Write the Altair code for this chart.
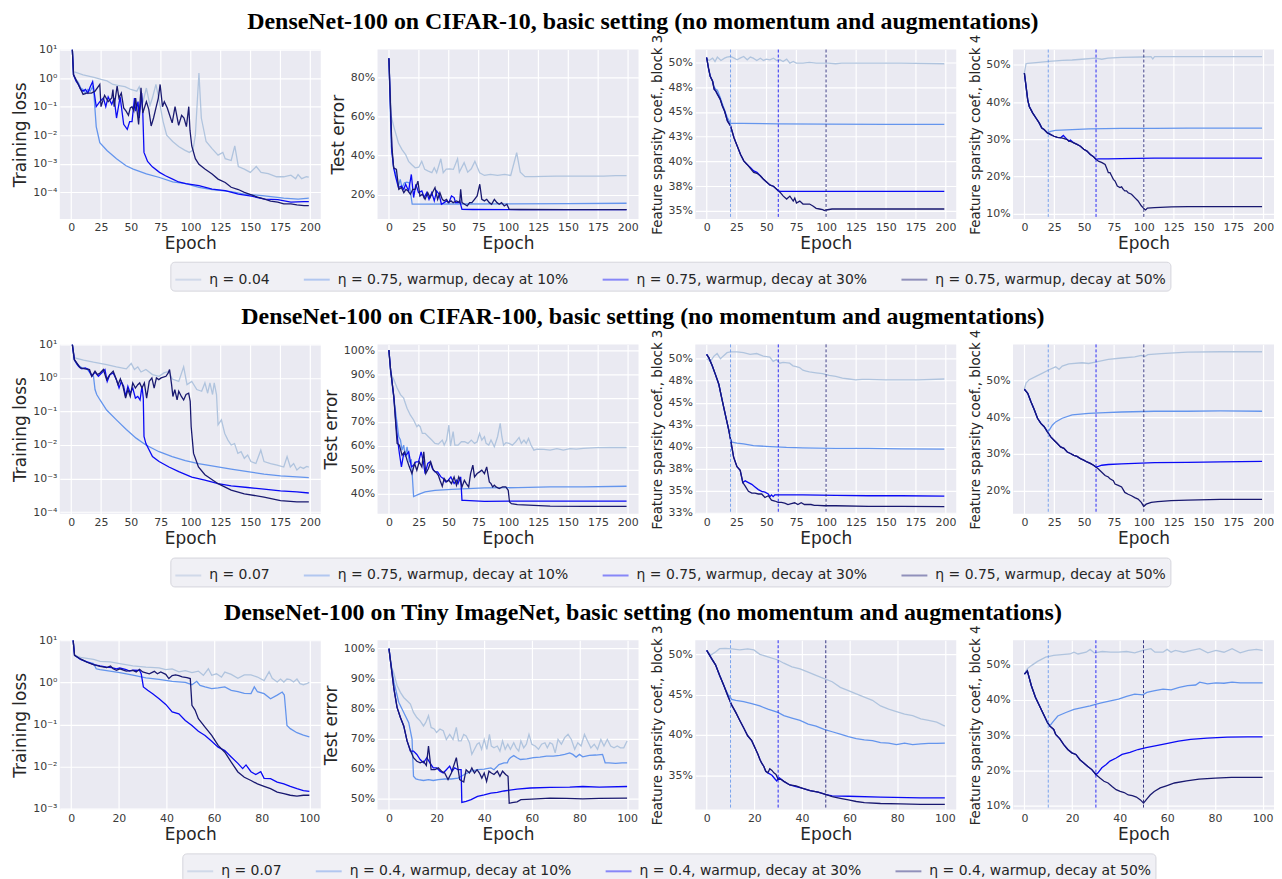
import altair as alt
import pandas as pd

# ---------------- labels / titles ----------------
TITLES = [
    "DenseNet-100 on CIFAR-10, basic setting (no momentum and augmentations)",
    "DenseNet-100 on CIFAR-100, basic setting (no momentum and augmentations)",
    "DenseNet-100 on Tiny ImageNet, basic setting (no momentum and augmentations)",
]
LABELS_R1 = ["η = 0.04", "η = 0.75, warmup, decay at 10%", "η = 0.75, warmup, decay at 30%", "η = 0.75, warmup, decay at 50%"]
LABELS_R2 = ["η = 0.07", "η = 0.75, warmup, decay at 10%", "η = 0.75, warmup, decay at 30%", "η = 0.75, warmup, decay at 50%"]
LABELS_R3 = ["η = 0.07", "η = 0.4, warmup, decay at 10%", "η = 0.4, warmup, decay at 30%", "η = 0.4, warmup, decay at 50%"]
LINE_COLORS = ["#B0C4DE", "#6495ED", "#0A0AF5", "#191970"]
LEGEND_COLORS = ["#CBD5E8", "#A7C0F0", "#7575F9", "#8080B1"]
DECAY_200 = [20, 60, 100]
DECAY_100 = [10, 30, 50]
X_TICKS_200 = [0, 25, 50, 75, 100, 125, 150, 175, 200]
X_TICKS_100 = [0, 20, 40, 60, 80, 100]

# ================= Row 1: CIFAR-10 =================
R1_LOSS_BASE = [(1, 10), (2, 1.7), (10, 1.3), (20, 1.05), (25, 0.9), (30, 0.8), (35, 0.6), (40, 0.55), (45, 0.5), (50, 0.4), (55, 0.35), (57, 0.5), (60, 0.14), (63, 0.45), (66, 0.11), (68, 0.2), (71, 0.6), (74, 0.14), (77, 0.03), (80, 0.01), (85, 0.006), (90, 0.004), (95, 0.003), (99, 0.0025), (102, 0.003), (104, 0.01), (107, 1.5), (109, 0.04), (113, 0.006), (118, 0.0034), (123, 0.002), (127, 0.0025), (129, 0.0015), (134, 0.0013), (137, 0.0042), (140, 0.0008), (145, 0.00065), (150, 0.0005), (155, 0.0008), (159, 0.0005), (165, 0.00045), (172, 0.00035), (178, 0.00035), (184, 0.0004), (188, 0.0003), (190, 0.00042), (193, 0.0003), (197, 0.00035), (199, 0.00034)]
R1_LOSS_D10 = [(1, 10), (2, 1.3), (4, 0.9), (6, 0.7), (8, 0.45), (10, 0.4), (12, 0.3), (14, 0.4), (16, 0.35), (18, 0.5), (19, 0.3), (21, 0.02), (24, 0.0055), (30, 0.0029), (38, 0.0015), (46, 0.00085), (52, 0.00065), (63, 0.00044), (74, 0.00033), (85, 0.00023), (96, 0.0002), (107, 0.00015), (118, 0.000124), (134, 0.000105), (145, 0.000087), (160, 0.000076), (178, 0.000063), (190, 0.000058), (199, 0.000063)]
R1_LOSS_D30 = [(1, 10), (2, 1.3), (4, 0.8), (6, 0.6), (8, 0.4), (10, 0.35), (12, 0.4), (14, 0.3), (16, 0.5), (18, 0.75), (21, 0.1), (24, 0.15), (27, 0.2), (29, 0.1), (31, 0.22), (34, 0.12), (36, 0.2), (38, 0.04), (41, 0.22), (44, 0.024), (47, 0.016), (49, 0.03), (51, 0.03), (53, 0.2), (54, 0.07), (56, 0.15), (57, 0.04), (59, 0.3), (60, 0.06), (61, 0.0025), (64, 0.0012), (68, 0.00078), (74, 0.0005), (79, 0.00038), (85, 0.00029), (90, 0.00023), (96, 0.0002), (107, 0.00017), (118, 0.00013), (129, 0.000115), (140, 0.000087), (151, 0.000073), (162, 0.000058), (173, 0.000055), (184, 0.000045), (195, 0.000047), (199, 0.000047)]
R1_LOSS_D50 = [(1, 10), (2, 1.3), (4, 0.9), (7, 0.5), (10, 0.27), (13, 0.3), (17, 0.3), (20, 0.35), (24, 0.6), (25, 0.1), (28, 0.25), (31, 0.15), (34, 0.2), (35, 0.4), (36, 0.1), (38.5, 0.53), (40, 0.2), (42, 0.3), (44, 0.09), (46, 0.07), (48, 0.05), (49.5, 0.09), (51, 0.1), (52.5, 0.07), (54, 0.2), (56.5, 0.024), (58.5, 0.46), (60, 0.06), (63, 0.15), (65, 0.08), (67, 0.021), (69, 0.04), (71, 0.09), (73, 0.2), (74.5, 0.6), (76.5, 0.1), (78, 0.15), (80.5, 0.09), (82.5, 0.05), (84.6, 0.027), (87, 0.1), (90, 0.022), (92.5, 0.05), (94.5, 0.04), (96.5, 0.02), (98.5, 0.1), (99.5, 0.015), (101, 0.0042), (104, 0.0015), (107, 0.00096), (112, 0.00065), (118, 0.00044), (123, 0.00029), (129, 0.00022), (134, 0.00015), (140, 0.000125), (145, 0.0001), (151, 0.000081), (156, 0.000068), (162, 0.000058), (167, 0.000049), (173, 0.000045), (178, 0.000039), (184, 0.000039), (189, 0.000036), (195, 0.000034), (199, 0.000034)]

R1_ERR_BASE = [(0, 89.7), (2, 60), (4, 55), (8, 46.4), (11, 43), (14, 40.5), (16.5, 37), (19, 35.4), (22, 33.7), (25, 34), (27.5, 37), (30, 32.9), (33, 32), (36, 31.2), (38, 33.7), (40, 31.2), (43.5, 38.3), (45.5, 31.2), (48, 33), (51, 33.2), (54, 32.9), (57.5, 38.3), (59, 31.5), (63, 36.3), (66, 31.5), (69, 33.2), (72, 37), (76, 31.2), (80, 29.8), (85, 30.3), (91, 29.8), (97, 30.3), (102, 29.8), (107, 41.4), (110, 31.5), (114, 29.2), (121, 29.2), (130, 29.3), (140, 29.5), (150, 29.5), (165, 29.5), (180, 29.5), (190, 29.7), (199, 29.7)]
R1_ERR_D10 = [(0, 89.7), (2, 44.7), (4, 33.7), (5.5, 31.2), (8, 24.4), (9.5, 27.8), (11, 23.6), (13, 26), (15, 26.4), (17, 26.1), (19.5, 15.1), (30, 15.1), (60, 15.2), (100, 15.3), (150, 15.4), (199, 15.6)]
R1_ERR_D30 = [(0, 89.7), (2.5, 42), (4, 33.7), (5.5, 29.5), (8, 23.6), (10.5, 24.4), (12.5, 22.7), (14, 25.3), (16.5, 21.9), (18.8, 30.3), (20.7, 18.5), (22.6, 25.3), (24.8, 21), (27.6, 21.9), (29.5, 18.5), (31.7, 21), (33.6, 17.6), (35.9, 21), (38, 16.8), (40, 21.9), (42, 20.2), (44, 15.1), (46.3, 15.9), (48.3, 16.8), (50.2, 15.9), (52.4, 19.3), (54.6, 18.5), (55.8, 15.9), (58, 15.9), (59.3, 16.8), (61.2, 12.5), (70, 12.4), (100, 12.3), (150, 12.3), (199, 12.3)]
R1_ERR_D50 = [(0, 89.7), (2.5, 44.7), (4, 33.7), (6.3, 32.9), (8.3, 22.7), (10.5, 23.6), (12.5, 21), (14.3, 22.7), (16, 21.9), (18, 20.2), (20, 22.7), (22, 22.7), (24.3, 26.9), (26, 19.3), (28, 20.2), (30.3, 17.6), (32.5, 21), (34.5, 18.5), (36.4, 21), (38.6, 23.6), (40.8, 17.6), (42.7, 21), (44.7, 17.6), (46.3, 16.8), (48.3, 17.6), (49.7, 15.9), (52, 16.8), (53.8, 15.9), (56.6, 16.8), (59.3, 15.9), (60.1, 22.7), (61.2, 15.9), (63.4, 15.1), (65.6, 14.2), (67.6, 15.9), (69.5, 15.9), (71.7, 17.6), (73.9, 19.3), (76.1, 25.3), (77.8, 17.6), (80, 16.8), (81.9, 17.6), (84.1, 15.9), (86, 15.1), (88.3, 17.6), (90.5, 15.9), (92.4, 15.1), (94.3, 15.9), (96.6, 14.2), (98.8, 15.1), (100.7, 12.5), (110, 12.4), (150, 12.3), (199, 12.3)]

R1_B3_BASE = [(0, 50.4), (2, 50.2), (5, 50.43), (7, 50.1), (9, 50.54), (12, 50.2), (15, 50.43), (17, 50.54), (20, 50.6), (23, 50.43), (25.5, 50.27), (28, 50.43), (31, 50.6), (34, 50.27), (36.6, 50.54), (39, 50.43), (42, 50.2), (45, 50.43), (47.6, 50.2), (50, 50.33), (53, 50.27), (56, 50.43), (58.7, 50.2), (61.4, 50.27), (64, 50.1), (67, 50.33), (69.7, 49.93), (72.5, 50.1), (75, 49.93), (80.6, 49.93), (86, 50.0), (91.8, 49.93), (97, 49.93), (102, 49.93), (108, 49.87), (113, 49.93), (135, 49.93), (163, 49.93), (199, 49.87)]
R1_B3_D10 = [(0, 50.5), (1.6, 49.4), (3, 48.6), (5, 48.1), (6.3, 47.5), (7.7, 47.3), (9, 47.2), (11.3, 46.5), (13.2, 45.8), (15, 45.2), (17.4, 44.4), (20, 43.84), (30, 43.84), (60, 43.8), (100, 43.78), (150, 43.75), (199, 43.74)]
R1_B3_D30 = [(0, 50.5), (1.6, 49.4), (3, 48.6), (5, 48.1), (6.3, 47.3), (7.7, 47.1), (9, 46.8), (11.3, 46.3), (13.2, 45.6), (15, 45.1), (17.4, 44.1), (20, 43.6), (22.9, 42.4), (25.6, 41.56), (28.4, 40.7), (31.1, 40.06), (33.9, 39.7), (36.6, 39.4), (39.4, 39.05), (42.1, 38.9), (44.9, 38.55), (47.6, 38.2), (50.4, 37.9), (53.2, 37.6), (55.9, 37.5), (60, 37.04), (62, 36.98), (100, 36.98), (150, 36.98), (199, 36.98)]
R1_B3_D50 = [(0, 50.5), (1.6, 49.4), (3, 48.6), (5, 48.1), (6.3, 47.3), (7.7, 47.1), (9, 46.8), (11.3, 46.3), (13.2, 45.6), (15, 45.1), (17.4, 44.1), (20, 43.6), (22.9, 42.4), (25.6, 41.56), (28.4, 40.7), (31.1, 40.06), (33.9, 39.7), (36.6, 39.3), (39.4, 38.9), (42.1, 38.8), (44.9, 38.55), (47.6, 38.2), (50.4, 37.9), (53.2, 37.6), (55.9, 37.5), (60, 37.04), (61.4, 36.9), (64.2, 36.5), (67, 36.2), (69.7, 36.5), (72.5, 36.0), (73.8, 36.3), (75.2, 35.8), (78, 36.0), (80.7, 35.7), (83.5, 35.7), (86.2, 35.7), (89, 35.5), (91.7, 35.27), (94.5, 35.2), (97.2, 35.14), (98.6, 35.04), (100, 35.1), (105, 35.2), (130, 35.2), (160, 35.2), (199, 35.2)]

R1_B4_BASE = [(0, 47.8), (1.4, 50.3), (2.8, 50.4), (9.7, 50.6), (20.7, 50.9), (31.7, 51.2), (40, 51.3), (48, 51.5), (59.3, 51.8), (64.8, 51.5), (70, 51.8), (81.4, 52), (97.9, 52.1), (106, 52.2), (107.5, 51.6), (109, 52.2), (137, 52.2), (164, 52.2), (199, 52.2)]
R1_B4_D10 = [(0, 47.8), (1.4, 44.2), (2.8, 40.6), (4.1, 38.8), (6.9, 37.1), (9.7, 35.7), (12.4, 34.4), (14.6, 33), (16.5, 32.6), (19.3, 31.7), (22, 32.1), (26, 32.4), (40, 32.6), (54, 32.8), (81, 32.9), (109, 32.9), (137, 33), (199, 33)]
R1_B4_D30 = [(0, 47.8), (1.4, 44.2), (2.8, 40.6), (4.1, 38.8), (6.9, 37.1), (9.7, 35.7), (12.4, 34.4), (14.6, 33), (16.5, 32.6), (19.3, 31.7), (22.1, 31.25), (24.8, 30.8), (27.6, 30.5), (30.3, 30.4), (32.6, 31.0), (35.9, 29.9), (37.2, 29.5), (38.6, 29.8), (41.4, 29), (44.1, 28.6), (46.9, 28.1), (49.7, 27.3), (52.4, 26.8), (55.2, 25.9), (57.9, 25.3), (59.9, 24.6), (62, 24.7), (70, 24.7), (81, 24.8), (109, 24.9), (137, 24.9), (164, 24.9), (199, 24.9)]
R1_B4_D50 = [(0, 47.8), (1.4, 44.2), (2.8, 40.6), (4.1, 38.8), (6.9, 37.1), (9.7, 35.7), (12.4, 34.4), (14.6, 33), (16.5, 32.6), (19.3, 31.7), (22.1, 31.25), (24.8, 30.8), (27.6, 30.5), (30.3, 30.4), (32.6, 30.2), (35.9, 29.9), (37.2, 29.5), (38.6, 29.4), (41.4, 29), (44.1, 28.6), (46.9, 28.1), (49.7, 27.3), (52.4, 26.8), (55.2, 25.9), (57.9, 25.3), (59.9, 24.6), (62, 24.1), (65, 23.7), (67.6, 23.2), (69, 22.1), (70.3, 21), (71.7, 21), (73.1, 20.1), (74.5, 19.2), (75.9, 18.75), (77.8, 17.4), (80, 17), (81.4, 17.2), (82.8, 16.5), (84.1, 16.1), (85.5, 16.1), (86.9, 15.6), (89.7, 15.2), (92.4, 14.3), (95.2, 13.4), (97.9, 12.1), (99.3, 11.6), (100.7, 11.2), (101.5, 11.0), (103, 11.5), (109, 11.6), (123, 11.8), (137, 11.9), (165, 11.9), (199, 11.9)]

# ================= Row 2: CIFAR-100 =================
R2_LOSS_BASE = [(1, 10), (2.2, 4.0), (10.4, 3.4), (18.7, 2.95), (29.7, 2.5), (37.9, 2.14), (46.2, 1.86), (50.3, 2.7), (53, 1.78), (55.8, 2.14), (58.5, 1.5), (62.6, 1.78), (68.1, 1.26), (73.6, 1.12), (77.7, 1.41), (81.9, 1.58), (84.6, 0.93), (90.1, 0.79), (94.2, 2.14), (97, 0.63), (101, 0.79), (105.2, 0.45), (109.3, 0.40), (112, 0.71), (114.3, 0.35), (116.2, 0.71), (118.4, 0.32), (119.8, 0.71), (121.7, 0.32), (123, 0.04), (125.8, 0.056), (128.6, 0.022), (131.3, 0.014), (134, 0.01), (136.8, 0.011), (139.6, 0.0056), (142.3, 0.0063), (145, 0.004), (147.8, 0.005), (150.5, 0.0032), (154.7, 0.0028), (158.8, 0.007), (161.5, 0.0032), (167, 0.0028), (172.5, 0.0025), (178, 0.0022), (180.8, 0.0045), (183.5, 0.0022), (186.3, 0.0028), (189, 0.0018), (191.8, 0.0022), (194.5, 0.002), (197.3, 0.0023), (199, 0.0022)]
R2_LOSS_D10 = [(1, 10), (2.7, 3.5), (4.9, 2.5), (9, 2.0), (13.2, 1.86), (15.9, 1.4), (18.7, 1.12), (20, 0.45), (21.4, 0.32), (24.2, 0.22), (29.7, 0.11), (37.9, 0.056), (46.2, 0.029), (54.4, 0.016), (62.6, 0.01), (73.6, 0.0063), (84.6, 0.0045), (95.6, 0.0034), (106.6, 0.0028), (120.3, 0.0023), (134, 0.0019), (147.8, 0.0016), (161.5, 0.00135), (175.3, 0.0012), (189, 0.00112), (199, 0.00107)]
R2_LOSS_D30 = [(1, 10), (2.7, 3.5), (6.3, 2.2), (9, 1.86), (11.8, 2.0), (14.6, 1.78), (17.3, 1.12), (20, 1.5), (22.8, 1.12), (25.5, 1.4), (28.3, 1.78), (30.2, 0.79), (32.4, 1.25), (35.2, 1.4), (37.9, 0.89), (40.1, 0.5), (42, 0.79), (44, 0.56), (45.6, 0.28), (47.5, 0.56), (49.5, 0.35), (51.6, 0.5), (53.8, 0.25), (55.8, 0.28), (57.7, 0.22), (59.3, 0.56), (60.4, 0.25), (61, 0.018), (62.6, 0.011), (68.1, 0.0045), (73.6, 0.0032), (81.9, 0.0022), (90.1, 0.0016), (101, 0.0011), (112, 0.0009), (123, 0.0007), (134, 0.0006), (147.8, 0.00054), (161.5, 0.00048), (175.3, 0.00043), (189, 0.0004), (199, 0.00037)]
R2_LOSS_D50 = [(1, 10), (2.7, 3.5), (7.7, 2.0), (11.8, 1.86), (15.4, 1.78), (17.3, 1.12), (20, 1.58), (22, 1.26), (24.2, 1.41), (27, 1.78), (29.7, 0.89), (32.4, 1.26), (35.2, 1.58), (37.4, 1.0), (39.3, 0.63), (41.2, 0.94), (43.4, 0.56), (45.6, 0.25), (47.5, 0.45), (49.5, 0.28), (51.6, 0.71), (53.8, 0.5), (55.8, 0.63), (57.4, 0.71), (59.3, 0.5), (61.3, 0.71), (63.2, 0.25), (65.4, 0.79), (67.6, 1.0), (69.5, 0.5), (71.4, 1.0), (73.4, 0.89), (75.3, 1.0), (77.2, 1.05), (79.4, 1.12), (81.3, 1.41), (82.4, 1.78), (84.1, 0.63), (85.2, 0.28), (86.8, 0.45), (88.7, 0.22), (90.1, 0.40), (92.3, 0.28), (94.2, 0.22), (96.2, 0.32), (98.4, 0.35), (99.7, 0.2), (100.5, 0.035), (102.5, 0.0056), (106.6, 0.0022), (112, 0.0013), (123, 0.0007), (134, 0.00045), (145, 0.00035), (161.5, 0.00028), (175.3, 0.00022), (189, 0.0002), (199, 0.0002)]

R2_ERR_BASE = [(0, 100), (1.4, 90.5), (4.1, 87.7), (6.9, 84.2), (9.7, 81.4), (12.4, 80), (13.2, 78.6), (15.2, 75.7), (17.9, 72.9), (20.7, 70.8), (23.4, 68), (24.8, 68.7), (26.2, 68), (28, 65.2), (30.3, 65.2), (33.1, 63.8), (35.9, 62.4), (38.6, 61), (41.4, 60.7), (44.7, 62.4), (46.3, 60.3), (48.3, 62.4), (50.2, 68.7), (51.6, 59.9), (53.8, 65.9), (55.2, 60.3), (57.9, 60.3), (60.7, 61.7), (63.4, 61.7), (66.2, 61), (69, 62.4), (71.7, 61), (73.9, 61.7), (75.9, 65.2), (77.8, 62.4), (80, 63.8), (81.4, 61), (83.6, 60.3), (85.5, 62.4), (88.3, 59.6), (91, 63.8), (93.2, 69.4), (94.6, 63.8), (96, 60.3), (98, 61.3), (100.7, 61), (103.4, 60.3), (106.2, 61.7), (109, 63.5), (110.9, 61), (113.1, 62.4), (115.0, 61), (116.9, 63.1), (119, 60.3), (121.4, 58.2), (124, 58.6), (129.7, 58.5), (135, 58.2), (140.7, 58.8), (146, 58.2), (151.7, 58.8), (157, 58.6), (162.8, 58.9), (173.8, 59.2), (184.8, 59.3), (199, 59.3)]
R2_ERR_D10 = [(0, 100), (1.4, 91.9), (3.3, 83.5), (6.1, 72.2), (8.3, 63.8), (9.7, 62.4), (11, 58.2), (12.4, 60.3), (13.8, 55.4), (15.2, 59.6), (17.1, 53.3), (18.8, 54), (19.3, 49.8), (20.7, 38.8), (24.8, 39.7), (30.3, 40.7), (38.6, 41.4), (52.4, 41.8), (66.2, 42.1), (80, 42.4), (107.6, 42.5), (135, 42.8), (162.8, 42.8), (199, 43.1)]
R2_ERR_D30 = [(0, 100), (1.4, 91.9), (4.1, 80.7), (6.1, 68), (7.7, 61), (8.8, 56.8), (10.5, 51.2), (12.4, 56.8), (14.3, 56.1), (16.6, 57.5), (18.8, 51.2), (20.7, 51.9), (22.6, 53.3), (24.8, 53.3), (27, 57.5), (28.9, 53.3), (30.3, 48.4), (32.6, 52.6), (34.5, 53.3), (36.4, 50.5), (38.6, 49.1), (40.8, 49.1), (43.6, 47), (45.5, 46.3), (47.4, 44.9), (49.7, 45.6), (51.9, 47), (54.6, 44.2), (56.6, 45.6), (57.9, 44.2), (60.1, 47), (61.2, 37.2), (63.4, 37.2), (80, 36.8), (107.6, 36.9), (135, 36.9), (162.8, 36.9), (199, 36.9)]
R2_ERR_D50 = [(0, 100), (1.4, 91.9), (4.1, 80.7), (6.9, 61), (8.8, 60.3), (11, 56.1), (13.2, 57.5), (15.2, 54), (17.1, 51.2), (19.3, 48.4), (21.5, 52.6), (23.4, 49.8), (25.4, 53.3), (27.6, 51.2), (29.2, 57.5), (30.9, 48.4), (33.1, 50.5), (35, 53.3), (37.2, 49.8), (39.2, 49.1), (41.4, 47.7), (42.8, 45.6), (44.7, 43.1), (46.3, 46.3), (48.3, 44.9), (50.2, 45.6), (52.4, 44.2), (54.6, 47), (56.6, 43.5), (58.5, 47), (59.9, 45.6), (61.2, 42.8), (63.2, 45.6), (64.8, 44.2), (66.8, 42.8), (68.4, 48.4), (70.3, 51.9), (71.7, 47), (73.9, 48.4), (75.9, 49.1), (77.8, 49.8), (80, 48.4), (81.9, 51.2), (84.1, 44.9), (85.5, 44.2), (86.9, 42.8), (88.3, 43.5), (89.7, 42.8), (92.4, 42.1), (95.2, 42.8), (97.9, 42.8), (99.9, 41.4), (101, 36.5), (102.6, 35.8), (107.6, 35.4), (121.4, 35.1), (135, 34.8), (162.8, 34.7), (199, 34.7)]

R2_B3_BASE = [(0, 50), (3.3, 49.7), (6.1, 50.3), (8.8, 50.6), (11.6, 50), (13.8, 50.3), (17.1, 50.7), (19.9, 50.8), (25.4, 50.8), (30.9, 50.7), (36.4, 50.5), (41.9, 50.6), (47.4, 50.3), (52.9, 50.2), (55.7, 49.7), (58.5, 49.9), (61.2, 49.5), (64, 49.6), (69.5, 49.5), (72.3, 49.2), (75, 49.1), (77.8, 49.0), (80.6, 48.7), (83.3, 48.6), (86.1, 48.5), (91.6, 48.4), (97.1, 48.3), (102.6, 48.1), (108.1, 48.0), (113.7, 47.8), (119.2, 47.7), (124.7, 47.6), (130.2, 47.65), (135.7, 47.65), (149.5, 47.6), (163.3, 47.6), (177, 47.6), (199, 47.7)]
R2_B3_D10 = [(0, 50.5), (1.9, 50.1), (4.7, 49.2), (7.4, 48.2), (10.2, 47.1), (13, 45.3), (15.7, 43.6), (18.5, 41.9), (19.9, 40.9), (21.2, 40.5), (25.4, 40.4), (30.9, 40.3), (39.2, 40.1), (53, 40), (66.8, 39.9), (80.6, 39.85), (108.1, 39.8), (135.7, 39.8), (163.3, 39.75), (199, 39.7)]
R2_B3_D30 = [(0, 50.5), (1.9, 50.1), (4.7, 49.2), (7.4, 48.2), (10.2, 47.1), (13, 45.3), (15.7, 43.6), (18.5, 41.9), (19.9, 40.9), (22.6, 38.8), (25.4, 37.7), (28.1, 37.3), (30.3, 35.9), (32.3, 36.1), (35, 35.9), (37.8, 35.7), (40.5, 35.4), (43.3, 35.1), (46.1, 34.9), (48.8, 34.8), (51.6, 34.6), (53, 34.3), (54.3, 34.5), (55.7, 34.3), (57.1, 34.5), (59.9, 34.5), (62, 34.5), (80.6, 34.5), (108.1, 34.45), (135.7, 34.4), (163.3, 34.4), (199, 34.35)]
R2_B3_D50 = [(0, 50.5), (1.9, 50.1), (4.7, 49.2), (7.4, 48.2), (10.2, 47.1), (13, 45.3), (15.7, 43.6), (18.5, 41.9), (19.9, 40.9), (22.6, 38.8), (25.4, 37.7), (28.1, 37.3), (30.3, 35.9), (32.3, 35.5), (35, 34.9), (37.8, 34.7), (40.5, 34.7), (43.3, 34.6), (46.1, 34.6), (48.8, 34.2), (51.6, 34.4), (54.3, 33.9), (57.1, 33.8), (59.9, 33.65), (62.6, 33.65), (65.4, 33.55), (68.1, 33.4), (70.9, 33.5), (73.7, 33.6), (76.4, 33.4), (79.2, 33.6), (81.9, 33.4), (84.7, 33.4), (87.4, 33.4), (90.2, 33.3), (92.9, 33.3), (98.5, 33.26), (108.1, 33.26), (135.7, 33.2), (163.3, 33.2), (199, 33.15)]

R2_B4_BASE = [(0, 47.6), (1.4, 49.3), (4.1, 50.2), (9.7, 51.1), (15.2, 52), (20.7, 52.9), (26.2, 53.7), (29, 53.0), (31.7, 53.9), (37.2, 54.5), (48.3, 54.8), (53.8, 54.6), (59.3, 55), (70.3, 55.7), (81.4, 56.1), (92.4, 56.4), (97.9, 56.8), (100.7, 56.5), (103.4, 57), (114.5, 57.3), (125.5, 57.5), (136.6, 57.7), (164.1, 57.8), (199, 57.8)]
R2_B4_D10 = [(0, 47.6), (2.8, 46.5), (5.5, 44.2), (8.3, 42), (11, 39.7), (13.8, 38.3), (16.6, 37.4), (19.3, 36), (20.7, 36.4), (23.4, 37.8), (26.2, 38.7), (31.7, 39.7), (40, 40.6), (53.8, 41), (67.6, 41.2), (81.4, 41.4), (108.9, 41.6), (136.6, 41.6), (164.1, 41.7), (199, 41.6)]
R2_B4_D30 = [(0, 47.6), (2.8, 46.5), (5.5, 44.2), (8.3, 42), (11, 39.7), (13.8, 38.3), (16.6, 37.4), (19.3, 36), (22.1, 34.6), (24.8, 33.7), (27.6, 32.8), (30.3, 31.9), (33.1, 31.5), (35.9, 30.5), (38.6, 30.1), (41.4, 29.6), (44.1, 29.3), (46.9, 28.7), (49.7, 28.3), (52.4, 27.8), (55.2, 27.4), (57.9, 26.9), (59.9, 26.4), (62, 26.6), (64.8, 26.9), (70.3, 27.1), (81.4, 27.3), (97.9, 27.5), (108.9, 27.6), (136.6, 27.7), (164.1, 27.8), (199, 27.95)]
R2_B4_D50 = [(0, 47.6), (2.8, 46.5), (5.5, 44.2), (8.3, 42), (11, 39.7), (13.8, 38.3), (16.6, 37.4), (19.3, 36), (22.1, 34.6), (24.8, 33.7), (27.6, 32.8), (30.3, 31.9), (33.1, 31.5), (35.9, 30.5), (38.6, 30.1), (41.4, 29.6), (44.1, 29.3), (46.9, 28.7), (49.7, 28.3), (52.4, 27.8), (55.2, 27.4), (57.9, 26.9), (59.9, 26.4), (62, 25.9), (64.8, 25.0), (67.6, 24.1), (70.3, 23.7), (71.7, 23.2), (74.5, 22.7), (75.9, 21.8), (78.6, 21.4), (81.4, 21.0), (84.1, 19.5), (86.9, 19.0), (89.7, 18.6), (92.4, 18.1), (95.2, 17.7), (97.9, 16.8), (99.9, 15.7), (102, 16.3), (106.2, 16.8), (111.7, 17), (122.8, 17.25), (136.6, 17.4), (164.1, 17.6), (199, 17.6)]

# ================= Row 3: Tiny ImageNet =================
R3_LOSS_BASE = [(0.8, 10), (1.4, 4.4), (3.9, 3.9), (6.6, 3.7), (9.4, 3.5), (12.1, 3.16), (16.3, 3.05), (20.4, 2.8), (25.9, 2.45), (31.4, 2.3), (36.9, 2.2), (39.7, 2.0), (42.4, 2.1), (45.2, 1.77), (47.9, 1.9), (50.7, 1.7), (53.4, 1.85), (55.5, 1.47), (57.6, 2.1), (59, 1.47), (61, 1.6), (63.1, 1.34), (64.5, 1.75), (67.2, 1.55), (70, 1.25), (72.7, 1.5), (75.5, 1.5), (78.2, 1.34), (81, 1.1), (83.1, 1.8), (84.4, 1.25), (86.5, 1.02), (87.9, 1.2), (89.3, 1.02), (90.6, 1.2), (92, 1.16), (93.4, 1.02), (94.8, 1.2), (96.1, 0.93), (97.5, 0.88), (98.9, 0.93), (100, 1.0)]
R3_LOSS_D10 = [(0.8, 10), (1.4, 4.4), (3.9, 3.54), (6.6, 3.05), (9.4, 2.8), (10.5, 2.1), (12.1, 2.0), (16.3, 1.84), (20.4, 1.7), (25.9, 1.48), (31.4, 1.28), (36.9, 1.18), (42.4, 1.06), (47.9, 1.0), (50.7, 0.88), (52.7, 1.06), (54.1, 0.85), (56.2, 0.78), (59, 0.71), (61.7, 0.74), (64.5, 0.78), (67.2, 0.65), (70, 0.6), (72.7, 0.55), (75.5, 0.54), (76.9, 0.78), (78.2, 0.6), (81, 0.54), (83.7, 0.41), (86.5, 0.5), (88.6, 0.59), (89.5, 0.5), (90.6, 0.095), (92, 0.08), (94.8, 0.064), (97.5, 0.056), (100, 0.051)]
R3_LOSS_D30 = [(0.8, 10), (1.4, 4.4), (3.9, 3.5), (6.6, 3.05), (9.4, 2.65), (12.1, 2.45), (14.9, 2.3), (17, 2.25), (19, 2.1), (20.4, 2.2), (23.1, 2.0), (24.5, 1.85), (25.9, 1.95), (28.7, 1.93), (29.4, 1.6), (30.3, 0.78), (32.1, 0.65), (34.2, 0.54), (36.9, 0.41), (39.7, 0.3), (42.4, 0.2), (45.2, 0.18), (47.9, 0.125), (50.7, 0.095), (53.4, 0.069), (56.2, 0.055), (59, 0.04), (61.7, 0.029), (64.5, 0.024), (67.2, 0.017), (70, 0.012), (72, 0.009), (73.4, 0.011), (75.5, 0.0076), (77.5, 0.0065), (79.6, 0.0076), (81, 0.0053), (83.7, 0.0052), (86.5, 0.0043), (89.3, 0.0039), (92, 0.0034), (94.8, 0.003), (97.5, 0.0027), (100, 0.0026)]
R3_LOSS_D50 = [(0.8, 10), (1.4, 4.4), (3.9, 3.6), (6.6, 3.0), (9.4, 2.65), (12.1, 2.4), (14.9, 2.25), (16.5, 2.45), (17.6, 2.1), (19, 1.93), (20.4, 2.1), (23.1, 1.85), (25.9, 1.93), (27.3, 1.77), (28.7, 2.05), (30, 1.77), (32.8, 1.6), (34.9, 1.83), (36.2, 1.6), (37.6, 1.77), (39.7, 1.55), (41, 1.23), (42.4, 1.45), (43.8, 1.5), (45.2, 1.45), (46.6, 1.35), (48.6, 1.3), (50, 1.23), (50.7, 0.285), (52, 0.22), (53.4, 0.137), (56.2, 0.087), (59, 0.055), (61.7, 0.032), (64.5, 0.022), (67.2, 0.0128), (70, 0.0075), (72.7, 0.0056), (75.5, 0.0047), (78.2, 0.0039), (81, 0.0034), (83.7, 0.003), (86.5, 0.0025), (89.3, 0.0023), (92, 0.0021), (94.8, 0.002), (97.5, 0.0021), (100, 0.0021)]

R3_ERR_BASE = [(0, 100), (1.1, 93.8), (2.1, 91.6), (3.4, 87.7), (4.8, 85.4), (6.2, 83.7), (7.6, 82.6), (9, 81.5), (10.3, 78.7), (11.7, 77), (13.1, 75.9), (14.5, 74.2), (15.4, 75.3), (16.6, 77.6), (17.7, 73.7), (19, 73.2), (20, 72), (21.4, 73.2), (22.8, 72.6), (24.1, 69.7), (25.5, 71.4), (26.9, 69.7), (28.3, 73.7), (29.2, 69.2), (30.3, 69.2), (31.4, 71.4), (32.4, 70.9), (33.8, 68.6), (34.8, 64.7), (35.9, 66.4), (37, 68.1), (37.9, 68.6), (38.9, 66.4), (40, 69.7), (41.1, 66.4), (42.2, 71.4), (43, 67.5), (44.1, 66.9), (45.5, 67.5), (46.6, 65.8), (47.7, 69.2), (48.8, 66.4), (49.9, 68.1), (51, 66.4), (52.4, 68.6), (53.4, 66.9), (54.5, 65.8), (55.4, 69.2), (56.6, 66.9), (57.7, 68.1), (58.8, 71.4), (60, 68.1), (61.4, 67.5), (62.8, 66.4), (64.1, 68.1), (65.5, 68.6), (66.5, 66.9), (67.6, 68.6), (68.7, 68.1), (69.8, 65.2), (71, 69.7), (72.4, 68.1), (73.8, 70.3), (75.2, 71.4), (76.6, 69.7), (78, 66.4), (79.3, 68.6), (80.7, 67.5), (82.1, 71.4), (83.4, 69.2), (84.8, 66.9), (86.2, 68.1), (87.6, 66.4), (89, 69.7), (90.3, 67.5), (91.7, 69.7), (93.1, 67.5), (94.5, 66.9), (95.9, 67.5), (97.2, 66.9), (98.6, 66.9), (100, 69.2)]
R3_ERR_D10 = [(0, 100), (0.7, 95.5), (2.1, 88.8), (4.1, 82.1), (6.2, 78.7), (8.3, 75.3), (9.7, 69.7), (10.3, 57.4), (11.3, 56.5), (12.4, 56.3), (14.5, 56), (16.6, 56.3), (18.6, 56), (20.7, 56.3), (23.4, 56.5), (26.2, 56.5), (29, 56.8), (31.7, 58), (34.5, 59.1), (37.2, 59.6), (40, 59.8), (42.8, 60.2), (44.1, 59.6), (46.2, 61.3), (48.3, 61.9), (49.7, 61.9), (50.3, 63), (51, 63.6), (52.4, 64.3), (53.8, 63.6), (55.2, 63), (57.9, 63.2), (60.7, 63.6), (63.4, 63.8), (66.2, 64.1), (69, 64.1), (71.7, 64.4), (73.8, 64.7), (75.9, 65.2), (77.2, 64.7), (78.6, 63.8), (80, 64.7), (81.4, 63.9), (84.1, 64.4), (86.9, 64.5), (89.7, 64.7), (90.8, 61.9), (92.4, 61.9), (95.2, 61.7), (97.9, 61.9), (100, 61.9)]
R3_ERR_D30 = [(0, 100), (0.7, 95.5), (2.1, 86.5), (3.4, 80.4), (4.8, 77), (6.2, 74.2), (7.6, 69.2), (9, 65.8), (10.3, 65.8), (11.7, 64.7), (13.1, 63), (14.5, 61.9), (15.9, 63.6), (17.2, 61.9), (18.6, 60.2), (20, 60.2), (21.4, 59.1), (22.8, 58.5), (24.1, 59.6), (25.5, 60.8), (26.5, 59.1), (27.6, 60.2), (29, 59.6), (30.3, 59.6), (30.6, 48.7), (32.4, 49), (34.5, 49.6), (37.2, 50.7), (40, 51.2), (42.8, 51.8), (45.5, 52), (48.3, 52.5), (53.8, 53.1), (59.3, 53.5), (67.6, 53.7), (75.9, 53.8), (81.4, 54), (88.3, 53.8), (100, 54)]
R3_ERR_D50 = [(0, 100), (0.7, 95.5), (2.1, 86.5), (3.4, 80.4), (4.8, 77), (6.2, 74.2), (7.6, 69.2), (9, 66), (10.3, 63.6), (11.7, 62.4), (13.1, 61.9), (14.5, 62.4), (15.7, 61), (16.6, 67.5), (17.7, 59.6), (19.3, 59.6), (20.7, 60.2), (22.1, 59.1), (23.4, 58.5), (24.8, 56.3), (26.2, 58.5), (28.3, 63.6), (29.7, 56.3), (31.4, 55.5), (32.4, 59.6), (33.8, 58.5), (34.8, 60.2), (35.9, 58.5), (37, 59.6), (38, 58.5), (39, 56.8), (40, 58.5), (41, 55.7), (42, 59.1), (43, 58.5), (44.1, 58), (45.5, 59.1), (46.6, 57.4), (47.7, 59.1), (49, 58), (50, 57.4), (50.5, 48.4), (51.7, 48.6), (53.8, 48.9), (55.4, 49.6), (60, 49.8), (67.6, 50.1), (74.5, 50.0), (81.4, 49.9), (88.3, 50.0), (100, 50.1)]

R3_B3_BASE = [(0, 50.5), (1.7, 49.9), (3.7, 50.3), (5.4, 50.7), (7.9, 50.75), (10.5, 50.67), (13.9, 50.55), (17.2, 50.67), (19.8, 50.55), (22.3, 50), (25.7, 49.7), (29.9, 49.3), (32.4, 48.9), (35.8, 48.45), (39.2, 48.2), (42.6, 47.8), (45.9, 47.4), (49.3, 47), (52.7, 46.6), (56.1, 45.9), (59.5, 45.5), (62.8, 45.1), (66.2, 44.7), (69.6, 44.3), (73, 43.6), (76.4, 43.2), (79.7, 42.9), (83.1, 42.6), (86.5, 42.4), (89.9, 42), (93.2, 41.8), (96.6, 41.6), (100, 41.1)]
R3_B3_D10 = [(0, 50.5), (2, 49.5), (3.7, 48.7), (5.4, 47.4), (7.1, 46.2), (8.8, 45.1), (10.5, 44.4), (12.2, 44.3), (15.5, 44.15), (18.9, 43.9), (22.3, 43.6), (25.7, 43.2), (29.9, 42.8), (32.4, 42.4), (35.8, 42.1), (39.2, 41.8), (42.6, 41.35), (45.9, 41.1), (49.3, 40.7), (52.7, 40.4), (56.1, 40.1), (59.5, 39.8), (62.8, 39.55), (66.2, 39.4), (69.6, 39.3), (73, 39.05), (76.4, 39), (79.7, 38.8), (83.1, 39), (86.5, 38.8), (89.9, 38.9), (93.2, 38.95), (96.6, 38.95), (100, 39)]
R3_B3_D30 = [(0, 50.5), (2, 49.5), (3.7, 48.7), (5.4, 47.4), (7.1, 46.2), (8.8, 44.9), (10.5, 43.7), (12.2, 42.8), (13.9, 41.8), (15.5, 40.9), (17.2, 39.9), (18.9, 39.3), (20.6, 38.2), (21.5, 37.6), (22.3, 37), (23.1, 36.5), (24, 36.1), (24.8, 35.5), (25.7, 35.3), (27.4, 35.0), (28.5, 34.6), (29.4, 34.3), (30.4, 34.7), (32.4, 34.25), (34.9, 33.8), (37.5, 33.6), (40, 33.4), (43.4, 33.1), (46.8, 32.9), (50.2, 32.6), (52.7, 32.45), (59.5, 32.4), (73, 32.3), (89.9, 32.2), (100, 32.2)]
R3_B3_D50 = [(0, 50.5), (2, 49.5), (3.7, 48.7), (5.4, 47.4), (7.1, 46.2), (8.8, 44.9), (10.5, 43.7), (12.2, 42.8), (13.9, 41.8), (15.5, 40.9), (17.2, 39.9), (18.9, 39.3), (20.6, 38.2), (21.5, 37.6), (22.3, 37), (23.1, 36.5), (24, 36.1), (24.8, 35.5), (25.7, 35.3), (26.5, 35.8), (27.4, 35.6), (28.2, 35.3), (29.1, 35.1), (30, 34.5), (31.2, 34.5), (32.4, 34.25), (34.9, 33.8), (37.5, 33.7), (40, 33.4), (43.4, 33.1), (46.8, 32.9), (50.2, 32.6), (52.7, 32.35), (56.1, 32.15), (59.5, 31.95), (62.8, 31.75), (66.2, 31.6), (73, 31.5), (81.4, 31.45), (89.9, 31.4), (100, 31.4)]

R3_B4_BASE = [(0, 47.3), (1.2, 48.8), (2.9, 49.7), (5.5, 50.9), (8.9, 52.1), (12.3, 52.6), (15.7, 52.8), (19.1, 53.0), (20.8, 53.5), (22.5, 53.0), (25.9, 53.5), (27.6, 54.3), (29.3, 53.3), (32.7, 53.7), (36.1, 53.5), (39.5, 53.5), (42.9, 53.7), (46.3, 53.3), (49.7, 54.0), (53.1, 54.5), (54.8, 53.5), (58.2, 53.5), (59.9, 54.3), (61.6, 53.5), (63.4, 54.0), (66.8, 53.5), (70.2, 54.0), (73.6, 54.5), (77, 53.3), (80.4, 54.0), (83.8, 53.5), (87.2, 54.5), (90.6, 53.3), (94, 54.0), (97.4, 54.3), (100, 54.0)]
R3_B4_D10 = [(0, 47.3), (1.2, 48.2), (2.9, 44), (4.6, 40.7), (6.3, 38.3), (8, 35.9), (9.7, 33.5), (10.6, 32.6), (12.3, 34), (14, 35.4), (17.4, 36.4), (20.8, 37.3), (24.2, 37.8), (27.6, 38.3), (30.2, 38.8), (32.7, 39.2), (36.1, 39.7), (39.5, 40.2), (42.9, 41), (46.3, 41.6), (49.7, 41.4), (51.4, 42.1), (54.8, 42.6), (58.2, 43), (61.6, 42.8), (65, 43.5), (68.5, 44), (71.9, 44.2), (73.6, 45), (76.9, 44.5), (80.4, 44.8), (83.8, 44.7), (87.2, 45), (90.6, 44.8), (94, 44.8), (100, 44.8)]
R3_B4_D30 = [(0, 47.3), (1.2, 48.2), (2.9, 44), (4.6, 40.7), (6.3, 38.3), (8, 35.9), (9.7, 33.5), (10.6, 32.6), (12.3, 31.6), (13.1, 30.2), (14.8, 29), (16.5, 27.3), (18.2, 25.9), (19.9, 24.95), (21.6, 24.5), (23.3, 23), (24.9, 22.1), (26.6, 21.1), (28.3, 20.2), (30, 18.8), (30.8, 19.2), (32.5, 20.7), (34.2, 21.6), (35.9, 22.6), (38.5, 23.5), (41, 24.5), (44.3, 25.1), (47.7, 25.9), (51.1, 26.4), (55.4, 27), (59.6, 27.6), (64.7, 28.3), (69.8, 28.8), (76.7, 29.1), (85.2, 29.4), (93.7, 29.5), (100, 29.5)]
R3_B4_D50 = [(0, 47.3), (1.2, 48.2), (2.9, 44), (4.6, 40.7), (6.3, 38.3), (8, 35.9), (9.7, 33.5), (10.6, 32.6), (12.3, 31.6), (13.1, 30.2), (14.8, 29), (16.5, 27.3), (18.2, 25.9), (19.9, 24.95), (21.6, 24.5), (23.3, 23), (24.9, 22.1), (26.6, 21.1), (28.3, 20.2), (30, 18.8), (31.7, 17.8), (33.4, 16.9), (35.1, 16.4), (36.8, 15.4), (38.5, 14.5), (40.2, 14), (41.9, 13.7), (43.6, 13), (45.3, 12.8), (47, 12.4), (48.7, 11.6), (50, 10.7), (51.1, 11.6), (52.8, 13), (54.5, 14), (57, 15), (59.6, 15.6), (63, 16.4), (68.1, 17), (73.3, 17.5), (80.1, 17.8), (86.9, 18), (93.7, 18), (100, 18)]

# ---------------- axis domains / ticks ----------------
LOSS_DOMAINS = [[1.17e-5, 10], [8.9e-5, 10], [9.6e-4, 10]]
LOSS_TICKS = [[1e-4, 1e-3, 1e-2, 1e-1, 1, 10], [1e-4, 1e-3, 1e-2, 1e-1, 1, 10], [1e-3, 1e-2, 1e-1, 1, 10]]
ERR_DOMAINS = [[7.6, 94.1], [31.6, 102.4], [46.3, 102.8]]
ERR_TICKS = [[20, 40, 60, 80], [40, 50, 60, 70, 80, 90, 100], [50, 60, 70, 80, 90, 100]]
B3_DOMAINS = [[34.2, 51.3], [32.35, 51.64], [30.75, 51.75]]
B3_TICKS = [[35, 37.5, 40, 42.5, 45, 47.5, 50], [32.5, 35, 37.5, 40, 42.5, 45, 47.5, 50], [35, 40, 45, 50]]
B4_DOMAINS = [[8.58, 54.1], [13.7, 59.8], [8.86, 56.9]]
B4_TICKS = [[10, 20, 30, 40, 50], [20, 30, 40, 50], [10, 20, 30, 40, 50]]
X_DOMAINS = [[-9.5, 209], [-9.5, 209], [-4.8, 104.8]]

ROWS = [
    dict(loss=[R1_LOSS_BASE, R1_LOSS_D10, R1_LOSS_D30, R1_LOSS_D50],
         err=[R1_ERR_BASE, R1_ERR_D10, R1_ERR_D30, R1_ERR_D50],
         b3=[R1_B3_BASE, R1_B3_D10, R1_B3_D30, R1_B3_D50],
         b4=[R1_B4_BASE, R1_B4_D10, R1_B4_D30, R1_B4_D50],
         labels=LABELS_R1, xticks=X_TICKS_200, decay=DECAY_200, legx=111, legy=213),
    dict(loss=[R2_LOSS_BASE, R2_LOSS_D10, R2_LOSS_D30, R2_LOSS_D50],
         err=[R2_ERR_BASE, R2_ERR_D10, R2_ERR_D30, R2_ERR_D50],
         b3=[R2_B3_BASE, R2_B3_D10, R2_B3_D30, R2_B3_D50],
         b4=[R2_B4_BASE, R2_B4_D10, R2_B4_D30, R2_B4_D50],
         labels=LABELS_R2, xticks=X_TICKS_200, decay=DECAY_200, legx=111, legy=214),
    dict(loss=[R3_LOSS_BASE, R3_LOSS_D10, R3_LOSS_D30, R3_LOSS_D50],
         err=[R3_ERR_BASE, R3_ERR_D10, R3_ERR_D30, R3_ERR_D50],
         b3=[R3_B3_BASE, R3_B3_D10, R3_B3_D30, R3_B3_D50],
         b4=[R3_B4_BASE, R3_B4_D10, R3_B4_D30, R3_B4_D50],
         labels=LABELS_R3, xticks=X_TICKS_100, decay=DECAY_100, legx=123, legy=214),
]

PW, PH = 262, 170

SUP = {1: "¹", 0: "⁰", -1: "⁻¹", -2: "⁻²", -3: "⁻³", -4: "⁻⁴"}
LOG_EXPR = "'10' + (" + " : ".join(
    f"round(log(datum.value)/LN10) == {k} ? '{v}'" for k, v in SUP.items()) + " : '')"
PCT_EXPR = "round(datum.value) + '%'"


def panel(series, ytitle, ydom, yticks, xdom, xticks, log=False, decay=None, ytitle_size=17):
    xscale = alt.Scale(domain=xdom, nice=False, zero=False)
    if log:
        yscale = alt.Scale(type="log", domain=ydom, nice=False)
        yexpr = LOG_EXPR
    else:
        yscale = alt.Scale(domain=ydom, nice=False, zero=False)
        yexpr = PCT_EXPR
    xaxis = alt.Axis(values=xticks, title="Epoch", labelFlush=False)
    yaxis = alt.Axis(values=yticks, labelExpr=yexpr, title=ytitle,
                     titleFontSize=ytitle_size, labelFlush=False)
    layers = []
    for pts, col in zip(series, LINE_COLORS):
        df = pd.DataFrame(pts, columns=["epoch", "value"])
        layers.append(
            alt.Chart(df).mark_line(color=col, strokeWidth=1.3, clip=True).encode(
                x=alt.X("epoch:Q", scale=xscale, axis=xaxis),
                y=alt.Y("value:Q", scale=yscale, axis=yaxis),
            )
        )
    if decay:
        ddf = pd.DataFrame({"epoch": decay, "col": LINE_COLORS[1:]})
        layers.append(
            alt.Chart(ddf).mark_rule(strokeDash=[3, 2], strokeWidth=1, opacity=0.85).encode(
                x=alt.X("epoch:Q", scale=xscale, axis=xaxis),
                color=alt.Color("col:N", scale=None),
            )
        )
    return alt.layer(*layers).properties(width=PW, height=PH)


def legend_chart(labels, legx, legy):
    df = pd.DataFrame({"label": labels, "x": [5] * 4, "y": [5] * 4})
    return alt.Chart(df).mark_line(clip=True).encode(
        x=alt.X("x:Q", scale=alt.Scale(domain=[0, 1]), axis=None),
        y=alt.Y("y:Q", scale=alt.Scale(domain=[0, 1]), axis=None),
        color=alt.Color(
            "label:N",
            scale=alt.Scale(domain=labels, range=LEGEND_COLORS),
            legend=alt.Legend(
                orient="none", legendX=legx, legendY=legy, direction="horizontal", columns=4,
                title=None, symbolType="stroke", symbolSize=676, symbolStrokeWidth=2,
                labelFont="DejaVu Sans", labelFontSize=14, labelColor="#262626",
                labelLimit=400, labelOffset=7, columnPadding=30, padding=4,
                fillColor="#F0F0F5", strokeColor="#D5D5DC", cornerRadius=4,
            ),
        ),
    ).properties(width=1, height=1, view=alt.ViewBackground(fill="transparent", strokeWidth=0))


blocks = []
for r, row in enumerate(ROWS):
    p1 = panel(row["loss"], "Training loss", LOSS_DOMAINS[r], LOSS_TICKS[r], X_DOMAINS[r], row["xticks"], log=True)
    p2 = panel(row["err"], "Test error", ERR_DOMAINS[r], ERR_TICKS[r], X_DOMAINS[r], row["xticks"])
    p3 = panel(row["b3"], "Feature sparsity coef., block 3", B3_DOMAINS[r], B3_TICKS[r], X_DOMAINS[r], row["xticks"],
               decay=row["decay"], ytitle_size=13.4)
    p4 = panel(row["b4"], "Feature sparsity coef., block 4", B4_DOMAINS[r], B4_TICKS[r], X_DOMAINS[r], row["xticks"],
               decay=row["decay"], ytitle_size=13.4)
    hrow = alt.hconcat(
        p1, p2, p3, p4, spacing=57, bounds="flush",
        title=alt.TitleParams(TITLES[r], font="Liberation Serif", fontSize=24, fontWeight="bold",
                              anchor="middle", offset=0, color="black"),
    )
    blocks.append(alt.vconcat(hrow, legend_chart(row["labels"], row["legx"], row["legy"]), spacing=9))

chart = (
    alt.vconcat(*blocks, spacing=13)
    .resolve_scale(color="independent")
    .resolve_legend(color="independent")
    .properties(padding={"left": 3, "top": 0, "right": 0, "bottom": 0})
    .configure_view(fill="#EAEAF2", strokeWidth=0)
    .configure_axis(
        grid=True, gridColor="white", gridWidth=1.2, domain=False, ticks=False,
        labelFont="DejaVu Sans", labelFontSize=11, labelColor="#3a3a3a", labelPadding=3,
        titleFont="DejaVu Sans", titleFontWeight="normal", titleColor="#262626",
        titleFontSize=17, titlePadding=3,
    )
)

chart.save("out.html", embed_options={"renderer": "svg", "actions": False})
